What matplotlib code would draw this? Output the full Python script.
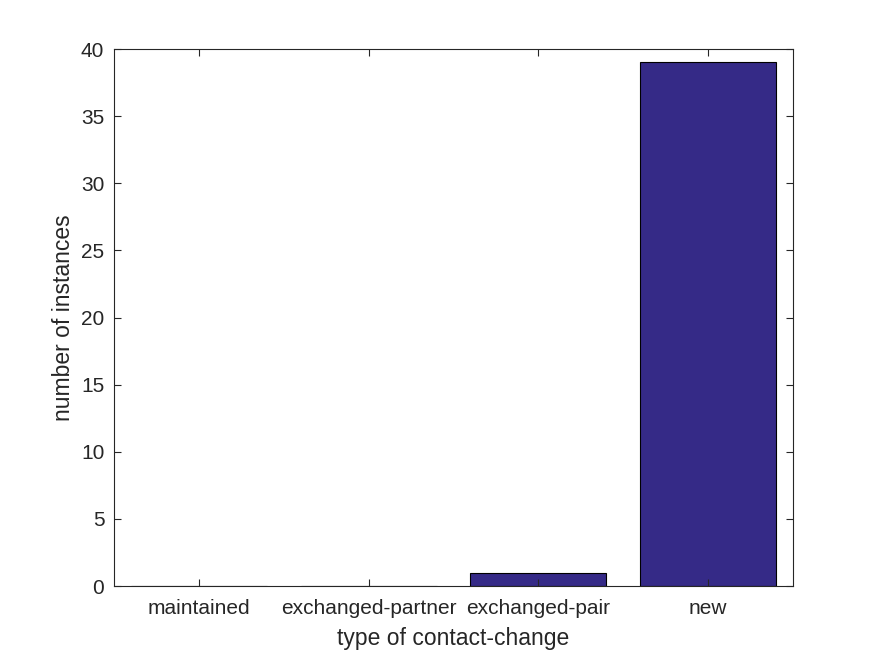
import matplotlib
matplotlib.use('Agg')
import matplotlib.pyplot as plt

categories = ['maintained', 'exchanged-partner', 'exchanged-pair', 'new']
counts = [0, 0, 1, 39]
yticks = [0, 5, 10, 15, 20, 25, 30, 35, 40]

plt.rcParams['font.family'] = ['Liberation Sans', 'DejaVu Sans']
text_col = '#262626'

fig = plt.figure(figsize=(8.75, 6.56), dpi=100)
ax = fig.add_axes([0.1303, 0.1067, 0.776, 0.8186])

x = list(range(1, len(categories) + 1))
ax.bar(x, counts, width=0.8, color='#352a87', edgecolor='black', linewidth=0.8)

ax.set_xlim(0.5, 4.5)
ax.set_ylim(0, 40)
ax.set_xticks(x)
ax.set_xticklabels(categories)
ax.set_yticks(yticks)

ax.tick_params(direction='in', top=True, right=True, length=5, width=0.8,
               labelsize=15, colors=text_col)
ax.tick_params(axis='x', pad=9)
ax.tick_params(axis='y', pad=7)
for s in ax.spines.values():
    s.set_color(text_col)
    s.set_linewidth(0.8)

ax.set_xlabel('type of contact-change', fontsize=16.5, color=text_col, labelpad=7)
ax.set_ylabel('number of instances', fontsize=16.5, color=text_col, labelpad=4)

fig.savefig('out.png', dpi=100)
